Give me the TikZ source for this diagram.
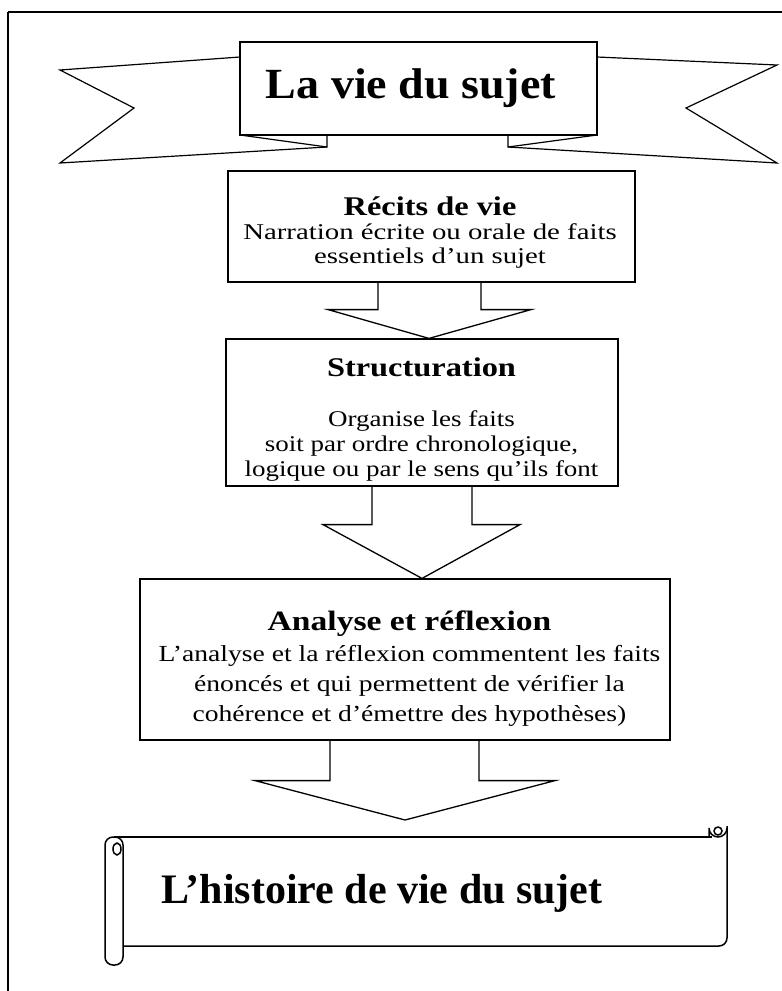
\documentclass[tikz,border=0pt]{standalone}
\usepackage{fontspec}
\setmainfont{Liberation Serif}
\newfontfamily\boxfont{Liberation Serif}[FakeStretch=1.2]
\newfontfamily\wideboxfont{Liberation Serif}[FakeStretch=1.28]
\newfontfamily\bannerfont{Liberation Serif}[FakeStretch=1.07]
\usetikzlibrary{calc}

\begin{document}
\begin{tikzpicture}[x=1pt, y=-1pt, line width=1.2pt,
  box/.style={draw, fill=white, inner sep=0pt},
  boxtext/.style={align=center, inner sep=0pt},
  bigtitle/.style={font=\bannerfont\fontsize{43}{46}\selectfont\bfseries},
  blockarrow/.style={draw, line width=1.3pt, line join=miter}]
  \useasboundingbox (0,0) rectangle (782,991);
  % frame of the page
  \draw (8,12) -- (782,12);
  \draw (8,12) -- (8,991);
  % ribbon wings
  \draw (240,57) -- (60,70) -- (134,108) -- (60,163) -- (327,147) -- (327,135);
  \draw (240,135) -- (327,147);
  \draw (597,57) -- (777,65) -- (686,108) -- (777,163) -- (508,147) -- (508,135);
  \draw (597,135) -- (508,147);
  \node[box, minimum width=357, minimum height=93] (banner) at (418.5,88.5) {};
  \node[bigtitle] (bannertext) at (411,88) {La vie du sujet};
  % the three boxes
  \node[box, minimum width=407, minimum height=111] (recits) at (431.5,226.5) {};
  \node[boxtext, font=\wideboxfont\fontsize{22.5}{24}\selectfont] (recitstext) at (430,232.5)
    {{\boxfont\fontsize{27}{29}\selectfont\bfseries Récits de vie}\\ Narration écrite ou orale de faits\\ essentiels d’un sujet};
  \node[box, minimum width=392, minimum height=147] (struct) at (422,412.5) {};
  \node[boxtext, font=\boxfont\fontsize{22.5}{25}\selectfont] (structtext) at (421.5,419.5)
    {{\fontsize{27}{29}\selectfont\bfseries Structuration}\\[25pt] Organise les faits\\ soit par ordre chronologique,\\ logique ou par le sens qu’ils font};
  \node[box, minimum width=530, minimum height=161] (analyse) at (405,659.5) {};
  \node[boxtext, font=\boxfont\fontsize{23}{30}\selectfont] (analysetext) at (409.5,669)
    {{\fontsize{28}{30}\selectfont\bfseries Analyse et réflexion}\\[1pt] L’analyse et la réflexion commentent les faits\\ énoncés et qui permettent de vérifier la\\ cohérence et d’émettre des hypothèses)};
  % block arrows
  \coordinate (tip1) at (recits.south -| 429,0);
  \draw[blockarrow] ($(recits.south)+(-53.5,0)$) -- ++(0,27) -- ++(-50,0) -- ($(struct.north -| tip1)$)
    -- ($(recits.south)+(99.5,27)$) -- ++(-50,0) -- ++(0,-27);
  \draw[blockarrow] ($(struct.south)+(-50,0)$) -- ++(0,38) -- ++(-49,0) -- (analyse.north -| struct.south)
    -- ($(struct.south)+(98,38)$) -- ++(-48,0) -- ++(0,-38);
  \coordinate (tip3) at (405,820);
  \draw[blockarrow] ($(analyse.south)+(-75,0)$) -- ++(0,40) -- ++(-75,0) -- (tip3)
    -- ($(analyse.south)+(150,40)$) -- ++(-76,0) -- ++(0,-40);
  % scroll
  \begin{scope}[line width=1.5pt]
    \draw (114,837) -- (712,837);
    \draw[rounded corners=8pt] (123,946) -- (727,946) -- (727,826);
    \draw[rounded corners=8pt] (105,837) rectangle (123,965);
    \draw (709,837) -- (709,828) arc (180:0:9);
    \draw (117,849) ellipse (4 and 6);
    \draw (718,831) circle (4);
  \end{scope}
  \node[font=\fontsize{42}{46}\selectfont\bfseries] (histoire) at (382,893) {L’histoire de vie du sujet};
\end{tikzpicture}
\end{document}
